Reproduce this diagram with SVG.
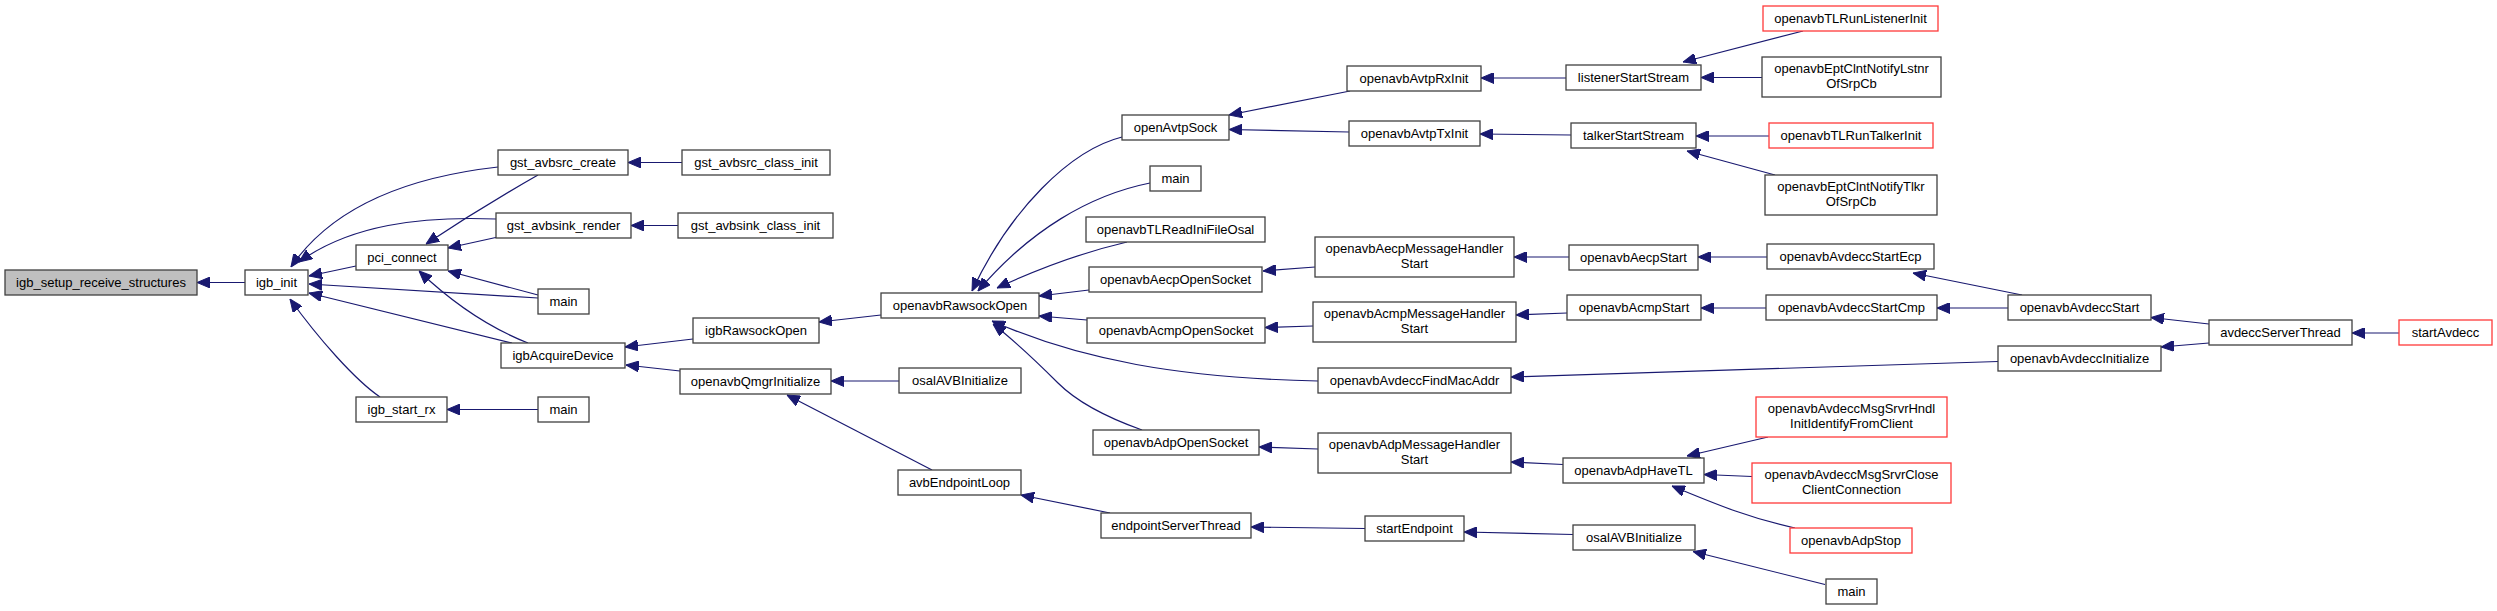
<svg xmlns="http://www.w3.org/2000/svg" width="2497" height="611" viewBox="0 0 2497 611">
<defs>
<style>
.n rect{fill:#ffffff;stroke:#404040;stroke-width:1.3}
.n.root rect{fill:#bfbfbf}
.n.red rect{stroke:#ff3a3a}
.n text{font-family:"Liberation Sans",Arial,Helvetica,sans-serif;font-size:13px;fill:#000;text-anchor:middle}
#edges path{fill:none;stroke:#191970;stroke-width:1.2;marker-end:url(#arr)}
</style>
<marker id="arr" markerUnits="userSpaceOnUse" markerWidth="13" markerHeight="11" viewBox="0 0 13 11" refX="13" refY="5.5" orient="auto">
<path d="M0,0 L13,5.5 L0,11 z" fill="#191970" stroke="#191970" stroke-width="1"/>
</marker>
</defs>
<rect width="2497" height="611" fill="#ffffff"/>
<g id="edges">
<path d="M245,282.5 L197,282.5"/>
<path d="M498,167 C400,178 330,210 291,267"/>
<path d="M496,219 C420,216 350,225 299,262"/>
<path d="M356,266 L309,276"/>
<path d="M538,298 L309,284"/>
<path d="M512,343 L309,293"/>
<path d="M380,397 C355,380 318,338 290,299"/>
<path d="M538,175 Q480,208 426,244"/>
<path d="M498,237 L448,248"/>
<path d="M538,295 L448,271"/>
<path d="M528,343 C495,330 460,310 419,271"/>
<path d="M678,225.5 L631,225.5"/>
<path d="M682,162.5 L628,162.5"/>
<path d="M538,409.5 L447,409.5"/>
<path d="M693,339 L625,347"/>
<path d="M680,371 L626,365"/>
<path d="M881,315 L819,322"/>
<path d="M899,381 L831,381"/>
<path d="M932,470 L787,395"/>
<path d="M1122,137 C1070,150 1010,210 972,291"/>
<path d="M1150,183 C1090,195 1030,230 978,291"/>
<path d="M1127,242 C1080,253 1040,268 997,288"/>
<path d="M1089,290 L1039,296"/>
<path d="M1087,320 L1039,316"/>
<path d="M1318,381 C1180,378 1080,360 992,321"/>
<path d="M1142,430 C1100,415 1075,400 1058,383 C1040,365 1020,345 993,324"/>
<path d="M1110,513 L1021,495"/>
<path d="M1350,91 L1229,115"/>
<path d="M1349,132 L1229,129.5"/>
<path d="M1566,78 L1481,78"/>
<path d="M1571,135 L1480,134"/>
<path d="M1315,267 L1263,271"/>
<path d="M1313,326 L1265,327.5"/>
<path d="M1318,449 L1259,447"/>
<path d="M1365,528.5 L1251,527"/>
<path d="M1569,257 L1514,257"/>
<path d="M1567,313 L1516,315"/>
<path d="M1998,361.5 L1511,377"/>
<path d="M1563,464.5 L1511,462"/>
<path d="M1573,534.5 L1464,532"/>
<path d="M1803,31 L1683,62"/>
<path d="M1762,77.5 L1701,77.5"/>
<path d="M1769,136 L1696,136"/>
<path d="M1775,175 L1687,151"/>
<path d="M1767,257 L1698,257"/>
<path d="M1766,308 L1701,308"/>
<path d="M2022,295 L1913,273"/>
<path d="M2008,308 L1937,308"/>
<path d="M1768,437 L1687,456"/>
<path d="M1752,476.5 L1704,474.5"/>
<path d="M1795,528 C1750,518 1720,506 1672,486"/>
<path d="M1825,584.5 L1693,551.5"/>
<path d="M2209,324 L2151,317.5"/>
<path d="M2209,343 L2161,347"/>
<path d="M2399,333 L2352,333"/>
</g>
<g id="n1" class="n root"><rect x="5" y="270" width="192" height="25"/><text x="101" y="287">igb_setup_receive_structures</text></g>
<g id="n2" class="n"><rect x="245" y="270" width="63" height="25"/><text x="276.5" y="287">igb_init</text></g>
<g id="n3" class="n"><rect x="356" y="245" width="92" height="25"/><text x="402" y="262">pci_connect</text></g>
<g id="n4" class="n"><rect x="356" y="397" width="91" height="25"/><text x="401.5" y="414">igb_start_rx</text></g>
<g id="n5" class="n"><rect x="498" y="150" width="130" height="25"/><text x="563" y="167">gst_avbsrc_create</text></g>
<g id="n6" class="n"><rect x="682" y="150" width="148" height="25"/><text x="756" y="167">gst_avbsrc_class_init</text></g>
<g id="n7" class="n"><rect x="496" y="213" width="135" height="25"/><text x="563.5" y="230">gst_avbsink_render</text></g>
<g id="n8" class="n"><rect x="678" y="213" width="155" height="25"/><text x="755.5" y="230">gst_avbsink_class_init</text></g>
<g id="n9" class="n"><rect x="538" y="289" width="51" height="25"/><text x="563.5" y="306">main</text></g>
<g id="n10" class="n"><rect x="501" y="343" width="124" height="25"/><text x="563" y="360">igbAcquireDevice</text></g>
<g id="n11" class="n"><rect x="538" y="397" width="51" height="25"/><text x="563.5" y="414">main</text></g>
<g id="n12" class="n"><rect x="693" y="318" width="126" height="25"/><text x="756" y="335">igbRawsockOpen</text></g>
<g id="n13" class="n"><rect x="680" y="369" width="151" height="25"/><text x="755.5" y="386">openavbQmgrInitialize</text></g>
<g id="n14" class="n"><rect x="881" y="293" width="158" height="25"/><text x="960" y="310">openavbRawsockOpen</text></g>
<g id="n15" class="n"><rect x="899" y="368" width="122" height="25"/><text x="960" y="385">osalAVBInitialize</text></g>
<g id="n16" class="n"><rect x="898" y="470" width="123" height="25"/><text x="959.5" y="487">avbEndpointLoop</text></g>
<g id="n17" class="n"><rect x="1122" y="115" width="107" height="25"/><text x="1175.5" y="132">openAvtpSock</text></g>
<g id="n18" class="n"><rect x="1150" y="166" width="51" height="25"/><text x="1175.5" y="183">main</text></g>
<g id="n19" class="n"><rect x="1086" y="217" width="179" height="25"/><text x="1175.5" y="234">openavbTLReadIniFileOsal</text></g>
<g id="n20" class="n"><rect x="1089" y="267" width="173" height="25"/><text x="1175.5" y="284">openavbAecpOpenSocket</text></g>
<g id="n21" class="n"><rect x="1087" y="318" width="178" height="25"/><text x="1176" y="335">openavbAcmpOpenSocket</text></g>
<g id="n22" class="n"><rect x="1093" y="430" width="166" height="25"/><text x="1176" y="447">openavbAdpOpenSocket</text></g>
<g id="n23" class="n"><rect x="1101" y="513" width="150" height="25"/><text x="1176" y="530">endpointServerThread</text></g>
<g id="n24" class="n"><rect x="1347" y="66" width="134" height="25"/><text x="1414" y="83">openavbAvtpRxInit</text></g>
<g id="n25" class="n"><rect x="1349" y="121" width="131" height="25"/><text x="1414.5" y="138">openavbAvtpTxInit</text></g>
<g id="n26" class="n"><rect x="1315" y="237" width="199" height="40"/><text x="1414.5" y="252.5">openavbAecpMessageHandler</text><text x="1414.5" y="267.5">Start</text></g>
<g id="n27" class="n"><rect x="1313" y="302" width="203" height="40"/><text x="1414.5" y="317.5">openavbAcmpMessageHandler</text><text x="1414.5" y="332.5">Start</text></g>
<g id="n28" class="n"><rect x="1318" y="368" width="193" height="25"/><text x="1414.5" y="385">openavbAvdeccFindMacAddr</text></g>
<g id="n29" class="n"><rect x="1318" y="433" width="193" height="40"/><text x="1414.5" y="448.5">openavbAdpMessageHandler</text><text x="1414.5" y="463.5">Start</text></g>
<g id="n30" class="n"><rect x="1365" y="516" width="99" height="25"/><text x="1414.5" y="533">startEndpoint</text></g>
<g id="n31" class="n"><rect x="1566" y="65" width="135" height="25"/><text x="1633.5" y="82">listenerStartStream</text></g>
<g id="n32" class="n"><rect x="1571" y="123" width="125" height="25"/><text x="1633.5" y="140">talkerStartStream</text></g>
<g id="n33" class="n"><rect x="1569" y="245" width="129" height="25"/><text x="1633.5" y="262">openavbAecpStart</text></g>
<g id="n34" class="n"><rect x="1567" y="295" width="134" height="25"/><text x="1634" y="312">openavbAcmpStart</text></g>
<g id="n35" class="n"><rect x="1563" y="458" width="141" height="25"/><text x="1633.5" y="475">openavbAdpHaveTL</text></g>
<g id="n36" class="n"><rect x="1573" y="525" width="122" height="25"/><text x="1634" y="542">osalAVBInitialize</text></g>
<g id="n37" class="n red"><rect x="1763" y="6" width="175" height="25"/><text x="1850.5" y="23">openavbTLRunListenerInit</text></g>
<g id="n38" class="n"><rect x="1762" y="57" width="179" height="40"/><text x="1851.5" y="72.5">openavbEptClntNotifyLstnr</text><text x="1851.5" y="87.5">OfSrpCb</text></g>
<g id="n39" class="n red"><rect x="1769" y="123" width="164" height="25"/><text x="1851" y="140">openavbTLRunTalkerInit</text></g>
<g id="n40" class="n"><rect x="1765" y="175" width="172" height="40"/><text x="1851" y="190.5">openavbEptClntNotifyTlkr</text><text x="1851" y="205.5">OfSrpCb</text></g>
<g id="n41" class="n"><rect x="1767" y="244" width="167" height="25"/><text x="1850.5" y="261">openavbAvdeccStartEcp</text></g>
<g id="n42" class="n"><rect x="1766" y="295" width="171" height="25"/><text x="1851.5" y="312">openavbAvdeccStartCmp</text></g>
<g id="n43" class="n red"><rect x="1756" y="397" width="191" height="40"/><text x="1851.5" y="412.5">openavbAvdeccMsgSrvrHndl</text><text x="1851.5" y="427.5">InitIdentifyFromClient</text></g>
<g id="n44" class="n red"><rect x="1752" y="463" width="199" height="40"/><text x="1851.5" y="478.5">openavbAvdeccMsgSrvrClose</text><text x="1851.5" y="493.5">ClientConnection</text></g>
<g id="n45" class="n red"><rect x="1790" y="528" width="122" height="25"/><text x="1851" y="545">openavbAdpStop</text></g>
<g id="n46" class="n"><rect x="1826" y="579" width="51" height="25"/><text x="1851.5" y="596">main</text></g>
<g id="n47" class="n"><rect x="2008" y="295" width="143" height="25"/><text x="2079.5" y="312">openavbAvdeccStart</text></g>
<g id="n48" class="n"><rect x="1998" y="346" width="163" height="25"/><text x="2079.5" y="363">openavbAvdeccInitialize</text></g>
<g id="n49" class="n"><rect x="2209" y="320" width="143" height="25"/><text x="2280.5" y="337">avdeccServerThread</text></g>
<g id="n50" class="n red"><rect x="2399" y="320" width="93" height="25"/><text x="2445.5" y="337">startAvdecc</text></g>
</svg>
